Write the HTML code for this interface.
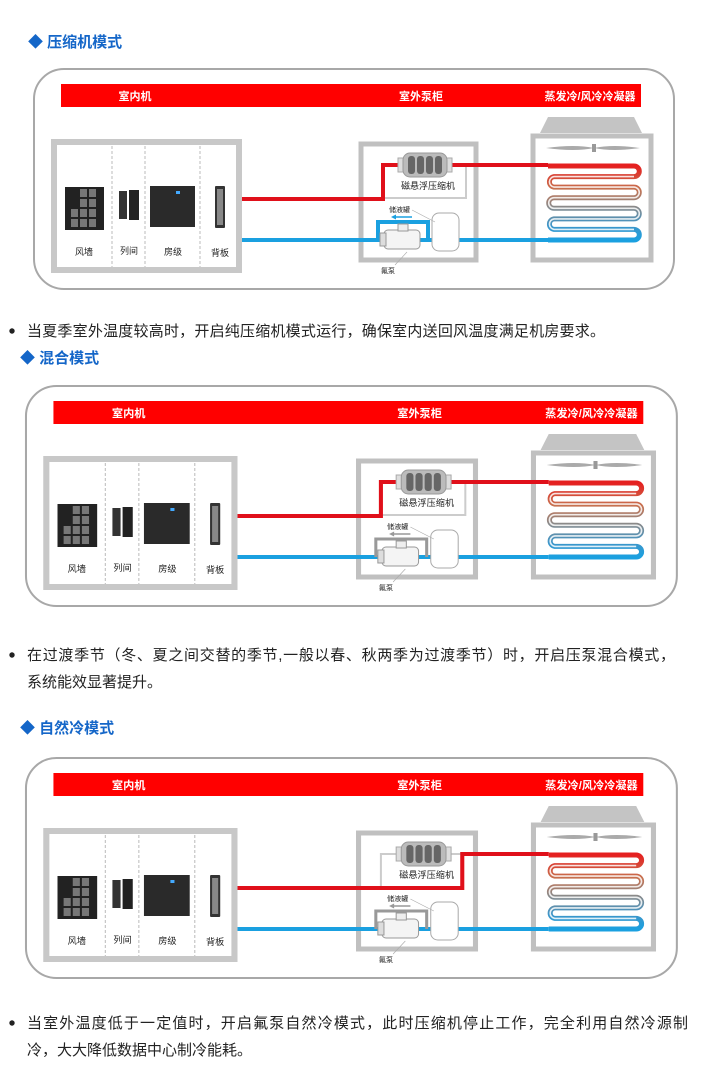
<!DOCTYPE html>
<html><head><meta charset="utf-8"><style>
html,body{margin:0;padding:0;background:#fff;width:708px;height:1071px;overflow:hidden}
svg{display:block}
text{font-family:"Liberation Sans","Noto Sans CJK SC",sans-serif}
</style></head><body>
<svg width="708" height="1071" viewBox="0 0 708 1071" xmlns="http://www.w3.org/2000/svg">
<defs>
<linearGradient id="cg" gradientUnits="userSpaceOnUse" x1="0" y1="166" x2="0" y2="240">
<stop offset="0" stop-color="#e52020"/><stop offset="0.3" stop-color="#c8704e"/><stop offset="0.55" stop-color="#8a8a8a"/><stop offset="0.8" stop-color="#3f95c8"/><stop offset="1" stop-color="#1aa0e0"/>
</linearGradient>
<g id="base">
<rect x="34" y="69" width="640" height="220" rx="30" fill="#fff" stroke="#a8a8a8" stroke-width="2"/>
<rect x="61" y="84" width="580" height="23" fill="#ff0000"/>
<text x="135" y="100" font-size="11" font-weight="bold" fill="#fff" text-anchor="middle">室内机</text>
<text x="421" y="100" font-size="11" font-weight="bold" fill="#fff" text-anchor="middle">室外泵柜</text>
<text x="590" y="100" font-size="11" font-weight="bold" fill="#fff" text-anchor="middle">蒸发冷/风冷冷凝器</text>
<rect x="54" y="142" width="185" height="128" fill="#fff" stroke="#c8c8c8" stroke-width="6"/>
<g stroke="#bbb" stroke-width="1" stroke-dasharray="3,2"><line x1="112" y1="146" x2="112" y2="267"/><line x1="145" y1="146" x2="145" y2="267"/><line x1="200" y1="146" x2="200" y2="267"/></g>
<rect x="65" y="187" width="39" height="43" fill="#222"/>
<g fill="#777"><rect x="80" y="189" width="7" height="8"/><rect x="89" y="189" width="7" height="8"/><rect x="80" y="199" width="7" height="8"/><rect x="89" y="199" width="7" height="8"/><rect x="80" y="209" width="7" height="8"/><rect x="89" y="209" width="7" height="8"/><rect x="71" y="209" width="7" height="8"/><rect x="80" y="219" width="7" height="8"/><rect x="89" y="219" width="7" height="8"/><rect x="71" y="219" width="7" height="8"/></g>
<rect x="119" y="191" width="8" height="28" fill="#333"/><rect x="129" y="190" width="10" height="30" fill="#222"/>
<rect x="150" y="186" width="45" height="41" fill="#2a2a2a"/><rect x="176" y="191" width="4" height="3" fill="#4af"/>
<rect x="215" y="186" width="10" height="42" rx="1" fill="#333"/><rect x="217" y="189" width="6" height="36" fill="#888"/>
<g font-size="9" fill="#222" text-anchor="middle"><text x="84" y="255">风墙</text><text x="129" y="254">列间</text><text x="173" y="255">房级</text><text x="220" y="256">背板</text></g>
<rect x="361" y="144" width="115" height="116" fill="none" stroke="#c0c0c0" stroke-width="5"/>
<path d="M548 117 H634 L642 133 H540 Z" fill="#c4c4c4"/>
<rect x="533" y="136" width="118" height="124" fill="#fff" stroke="#c0c0c0" stroke-width="5"/>
<path d="M546 148 Q575 144 594 148 Q613 144 640 148 Q613 152 594 148 Q575 152 546 148Z" fill="#aaa"/><rect x="592" y="144" width="4" height="8" fill="#999"/>
</g>
<g id="coil">
<path id="cp" d="M548 166H634A5.3 5.3 0 0 1 634 176.6H554A5.3 5.3 0 0 0 554 187.1H634A5.3 5.3 0 0 1 634 197.7H554A5.3 5.3 0 0 0 554 208.3H634A5.3 5.3 0 0 1 634 218.9H554A5.3 5.3 0 0 0 554 229.4H634A5.3 5.3 0 0 1 634 240H548" fill="none" stroke="url(#cg)" stroke-width="5"/>
<path d="M634 176.6H554A5.3 5.3 0 0 0 554 187.1H634A5.3 5.3 0 0 1 634 197.7H554A5.3 5.3 0 0 0 554 208.3H634A5.3 5.3 0 0 1 634 218.9H554A5.3 5.3 0 0 0 554 229.4H634" fill="none" stroke="#fff" stroke-width="1.6" opacity="0.85"/>
</g>
<g id="comp">
<rect x="398" y="158" width="6" height="14" fill="#ddd" stroke="#aaa"/><rect x="446" y="158" width="6" height="14" fill="#ddd" stroke="#aaa"/>
<rect x="403" y="153" width="44" height="24" rx="7" fill="#bbb" stroke="#999"/>
<g fill="#666"><rect x="408" y="156" width="7" height="18" rx="3"/><rect x="417" y="156" width="7" height="18" rx="3"/><rect x="426" y="156" width="7" height="18" rx="3"/><rect x="435" y="156" width="7" height="18" rx="3"/></g>
<text x="428" y="189" font-size="9" fill="#222" text-anchor="middle">磁悬浮压缩机</text>
<text x="389" y="212" font-size="7" fill="#222">储液罐</text>
<text x="381" y="273" font-size="7" fill="#222">氟泵</text>
<line x1="412" y1="210" x2="435" y2="222" stroke="#aaa" stroke-width="0.6"/>
<line x1="395" y1="265" x2="407" y2="252" stroke="#aaa" stroke-width="0.6"/>
</g>
<g id="pump">
<rect x="432" y="213" width="27" height="38" rx="7" fill="#fff" stroke="#aaa"/>
<rect x="384" y="230" width="36" height="19" rx="4" fill="#f4f4f4" stroke="#999"/>
<rect x="398" y="224" width="10" height="7" fill="#eee" stroke="#999"/>
<rect x="380" y="233" width="6" height="13" fill="#ddd" stroke="#999"/>
</g>
</defs>

<text x="28" y="47" font-size="15" font-weight="bold" fill="#1466c8">◆ 压缩机模式</text>
<circle cx="12" cy="331" r="2.7" fill="#222"/>
<text x="27" y="336" font-size="15" fill="#222" textLength="578" lengthAdjust="spacing">当夏季室外温度较高时，开启纯压缩机模式运行，确保室内送回风温度满足机房要求。</text>
<text x="20" y="363" font-size="15" font-weight="bold" fill="#1466c8">◆ 混合模式</text>
<circle cx="12" cy="655" r="2.7" fill="#222"/>
<text x="27" y="660" font-size="15" fill="#222" textLength="648" lengthAdjust="spacing">在过渡季节（冬、夏之间交替的季节,一般以春、秋两季为过渡季节）时，开启压泵混合模式，</text>
<text x="27" y="687" font-size="15" fill="#222">系统能效显著提升。</text>
<text x="20" y="733" font-size="15" font-weight="bold" fill="#1466c8">◆ 自然冷模式</text>
<circle cx="12" cy="1023" r="2.7" fill="#222"/>
<text x="27" y="1028" font-size="15" fill="#222" textLength="661" lengthAdjust="spacing">当室外温度低于一定值时，开启氟泵自然冷模式，此时压缩机停止工作，完全利用自然冷源制</text>
<text x="27" y="1055" font-size="15" fill="#222">冷，大大降低数据中心制冷能耗。</text>

<g>
<use href="#base"/>
<path d="M466 165V198H383" fill="none" stroke="#ccc" stroke-width="2"/>
<path d="M242 199H383V165H400M450 165H548" fill="none" stroke="#e0101a" stroke-width="4"/>
<path d="M548 240H242" fill="none" stroke="#1aa0e0" stroke-width="4"/>
<path d="M378 240V222H428V240" fill="none" stroke="#1aa0e0" stroke-width="4"/>
<path d="M395 217H412" stroke="#1aa0e0" stroke-width="1.5"/><path d="M391 217l5-2.5v5z" fill="#1aa0e0"/>
<use href="#coil"/><use href="#pump"/><use href="#comp"/>
</g>

<g transform="translate(-8.6,317) scale(1.017,1)">
<use href="#base"/>
<path d="M466 165V198H383" fill="none" stroke="#ccc" stroke-width="2"/>
<path d="M242 199H383V165H400M450 165H548" fill="none" stroke="#e0101a" stroke-width="4"/>
<path d="M548 240H242" fill="none" stroke="#1aa0e0" stroke-width="4"/>
<path d="M378 240V222H428V240" fill="none" stroke="#999" stroke-width="3"/>
<path d="M395 217H412" stroke="#999" stroke-width="1.5"/><path d="M391 217l5-2.5v5z" fill="#999"/>
<use href="#coil"/><use href="#pump"/><use href="#comp"/>
</g>

<g transform="translate(-8.6,689) scale(1.017,1)">
<use href="#base"/>
<path d="M383 199V165H400M450 165H463" fill="none" stroke="#ccc" stroke-width="2"/>
<path d="M242 199H463V165H548" fill="none" stroke="#e0101a" stroke-width="4"/>
<path d="M548 240H242" fill="none" stroke="#1aa0e0" stroke-width="4"/>
<path d="M378 240V222H428V240" fill="none" stroke="#999" stroke-width="3"/>
<path d="M395 217H412" stroke="#999" stroke-width="1.5"/><path d="M391 217l5-2.5v5z" fill="#999"/>
<use href="#coil"/><use href="#pump"/><use href="#comp"/>
</g>
</svg>
</body></html>
